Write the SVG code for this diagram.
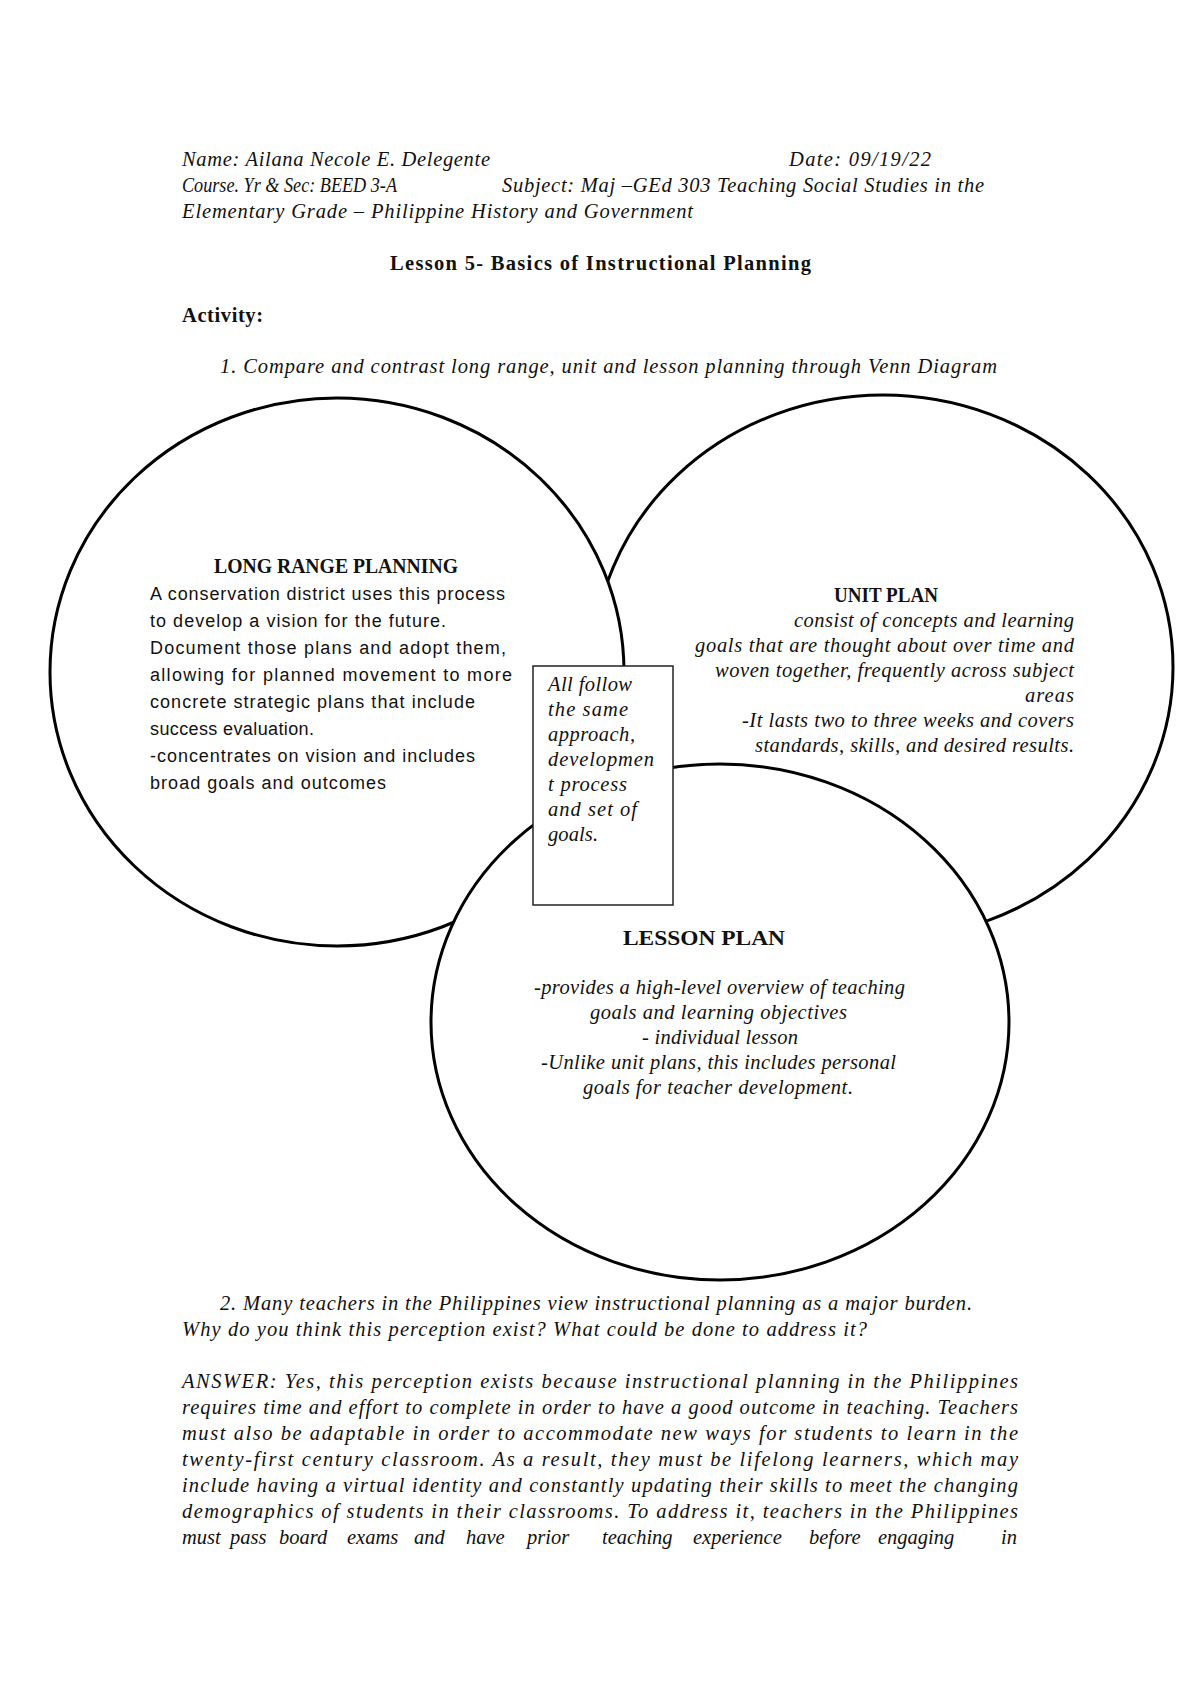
<svg xmlns="http://www.w3.org/2000/svg" width="1200" height="1698" viewBox="0 0 1200 1698">
<style>
.it{font-family:"Liberation Serif",serif;font-style:italic;font-size:20.5px;fill:#111}
.bd{font-family:"Liberation Serif",serif;font-weight:bold;font-size:20.5px;fill:#111}
.sn{font-family:"Liberation Sans",sans-serif;font-size:18px;fill:#111}
.shape{fill:#fff;stroke:#000;stroke-width:3}
.box{fill:#fff;stroke:#222;stroke-width:1.5}
</style>
<rect width="1200" height="1698" fill="#fff"/>
<g id="header">
<text class="it" x="182" y="166" textLength="308">Name: Ailana Necole E. Delegente</text>
<text class="it" x="789" y="166" textLength="142">Date: 09/19/22</text>
<text class="it" x="182" y="192" textLength="215" lengthAdjust="spacingAndGlyphs">Course. Yr &amp; Sec: BEED 3-A</text>
<text class="it" x="502" y="192" textLength="482">Subject: Maj –GEd 303 Teaching Social Studies in the</text>
<text class="it" x="182" y="218" textLength="511">Elementary Grade – Philippine History and Government</text>
<text class="bd" x="390" y="270" textLength="421">Lesson 5- Basics of Instructional Planning</text>
<text class="bd" x="182" y="322" textLength="81">Activity:</text>
<text class="it" x="220" y="373" textLength="777">1. Compare and contrast long range, unit and lesson planning through Venn Diagram</text>
</g>
<g id="unit-plan">
<ellipse class="shape" cx="883" cy="667" rx="290" ry="272"/>
</g>
<g id="long-range-planning">
<ellipse class="shape" cx="337" cy="672" rx="287" ry="274"/>
</g>
<g id="lesson-plan">
<ellipse class="shape" cx="720" cy="1022" rx="289" ry="258"/>
</g>
<g id="common">
<rect class="box" x="533" y="666" width="140" height="239"/>
<text class="it" x="548" y="691" textLength="84">All follow</text>
<text class="it" x="548" y="716" textLength="80">the same</text>
<text class="it" x="548" y="741" textLength="87">approach,</text>
<text class="it" x="548" y="766" textLength="106">developmen</text>
<text class="it" x="548" y="791" textLength="79">t process</text>
<text class="it" x="548" y="816" textLength="89">and set of</text>
<text class="it" x="548" y="841" textLength="50">goals.</text>
</g>
<g id="long-range-text">
<text class="bd" x="214" y="573" textLength="244" lengthAdjust="spacingAndGlyphs">LONG RANGE PLANNING</text>
<text class="sn" x="150" y="600" textLength="355">A conservation district uses this process</text>
<text class="sn" x="150" y="627" textLength="296">to develop a vision for the future.</text>
<text class="sn" x="150" y="654" textLength="356">Document those plans and adopt them,</text>
<text class="sn" x="150" y="681" textLength="362">allowing for planned movement to more</text>
<text class="sn" x="150" y="708" textLength="325">concrete strategic plans that include</text>
<text class="sn" x="150" y="735" textLength="164">success evaluation.</text>
<text class="sn" x="150" y="762" textLength="325">-concentrates on vision and includes</text>
<text class="sn" x="150" y="789" textLength="236">broad goals and outcomes</text>
</g>
<g id="unit-text">
<text class="bd" x="834" y="602" textLength="104" lengthAdjust="spacingAndGlyphs">UNIT PLAN</text>
<text class="it" x="794" y="627" textLength="280">consist of concepts and learning</text>
<text class="it" x="695" y="652" textLength="379">goals that are thought about over time and</text>
<text class="it" x="715" y="677" textLength="359">woven together, frequently across subject</text>
<text class="it" x="1025" y="702" textLength="49">areas</text>
<text class="it" x="742" y="727" textLength="332">-It lasts two to three weeks and covers</text>
<text class="it" x="755" y="752" textLength="319">standards, skills, and desired results.</text>
</g>
<g id="lesson-text">
<text class="bd" x="623" y="945" textLength="162" lengthAdjust="spacingAndGlyphs">LESSON PLAN</text>
<text class="it" x="534" y="994" textLength="371">-provides a high-level overview of teaching</text>
<text class="it" x="590" y="1019" textLength="257">goals and learning objectives</text>
<text class="it" x="642" y="1044" textLength="156">- individual lesson</text>
<text class="it" x="541" y="1069" textLength="355">-Unlike unit plans, this includes personal</text>
<text class="it" x="583" y="1094" textLength="270">goals for teacher development.</text>
</g>
<g id="question-2">
<text class="it" x="220" y="1310" textLength="752">2. Many teachers in the Philippines view instructional planning as a major burden.</text>
<text class="it" x="182" y="1336" textLength="685">Why do you think this perception exist? What could be done to address it?</text>
<text class="it" x="182" y="1388" textLength="836">ANSWER: Yes, this perception exists because instructional planning in the Philippines</text>
<text class="it" x="182" y="1414" textLength="836">requires time and effort to complete in order to have a good outcome in teaching. Teachers</text>
<text class="it" x="182" y="1440" textLength="836">must also be adaptable in order to accommodate new ways for students to learn in the</text>
<text class="it" x="182" y="1466" textLength="836">twenty-first century classroom. As a result, they must be lifelong learners, which may</text>
<text class="it" x="182" y="1492" textLength="836">include having a virtual identity and constantly updating their skills to meet the changing</text>
<text class="it" x="182" y="1518" textLength="836">demographics of students in their classrooms. To address it, teachers in the Philippines</text>
<text class="it" y="1544"><tspan x="182">must</tspan><tspan x="230">pass</tspan><tspan x="279">board</tspan><tspan x="347">exams</tspan><tspan x="414">and</tspan><tspan x="466">have</tspan><tspan x="527">prior</tspan><tspan x="602">teaching</tspan><tspan x="693">experience</tspan><tspan x="809">before</tspan><tspan x="878">engaging</tspan><tspan x="1001">in</tspan></text>
</g>
</svg>
